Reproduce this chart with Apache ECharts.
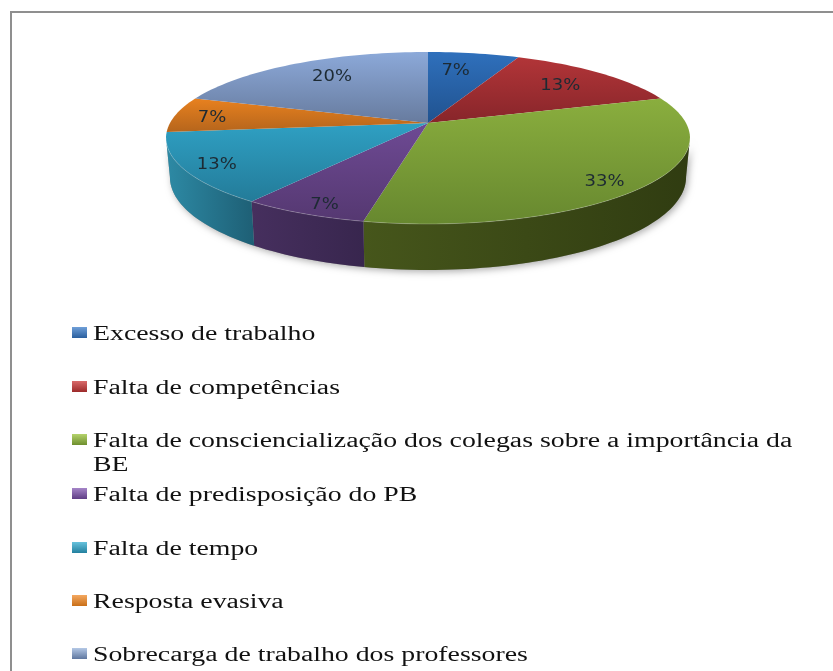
<!DOCTYPE html>
<html>
<head>
<meta charset="utf-8">
<style>html,body{margin:0;padding:0;background:#fff}#c{width:833px;height:671px}</style>
<script src="https://cdn.jsdelivr.net/npm/echarts@6/dist/echarts.min.js"></script>
</head>
<body>
<div id="c"></div>
<script>
// ---- data ----
var categories = [
  'Excesso de trabalho',
  'Falta de competências',
  'Falta de consciencialização dos colegas sobre a importância da\nBE',
  'Falta de predisposição do PB',
  'Falta de tempo',
  'Resposta evasiva',
  'Sobrecarga de trabalho dos professores'
];
var responses = [1, 2, 5, 1, 2, 1, 3];

// ---- styles ----
var topColors  = [['#2f70bc','#20528f'],['#b23538','#87252a'],['#8aae3e','#67882f'],['#6e4a94','#553871'],['#2fa0c3','#237b99'],['#e8811f','#b5651c'],['#8ca9d9','#677b9e']];
var wallColors = [['#20528f','#183d6b'],['#87252a','#5e1a1d'],['#46561b','#303c11'],['#462f5e','#38264e'],['#2d8aa5','#1e5f75'],['#b5651c','#7d4613'],['#677b9e','#46556e']];
var swatchColors = [['#6f9fd8','#2a5f9e'],['#d96a6a','#9c2a2a'],['#b5d36c','#6e8f2e'],['#a585c8','#5f3d85'],['#67c2dc','#23809f'],['#f4a860','#c96f18'],['#b4c8e6','#5f779f']];
var labelNudge = [[-8,2],[0,2],[19,13],[-14,17],[-32,9],[-26,2],[7,0]];
var legendRows = [333, 387, 440, 494, 548, 601, 654];

// ---- projected pie geometry ----
var CX = 428, CY = 123, RX = 258, RY = 83.4, K = 0.174, DEPTH = 38, SHRINK = 0.985;
var WALL_FROM = 100, WALL_TO = 260;
var total = responses.reduce(function (a, b) { return a + b; }, 0);

function rim(deg, f) {
  var t = deg * Math.PI / 180, s = Math.sin(t) * f, c = Math.cos(t) * f, w = 1 + K * c;
  return { x: CX + RX * s / w, y: CY - RY * c / w, w: w };
}
function lower(deg) {
  var p = rim(deg, 1);
  return [CX + (p.x - CX) * SHRINK, p.y + DEPTH / p.w];
}
function arc(a, b, fn) {
  var out = [], n = Math.max(2, Math.ceil(Math.abs(b - a) / 1.5));
  for (var i = 0; i <= n; i++) out.push(fn(a + (b - a) * i / n));
  return out;
}
function upper(d) { var p = rim(d, 1); return [p.x, p.y]; }
function grad(c, horizontal) {
  return { type: 'linear', x: 0, y: 0, x2: horizontal ? 1 : 0, y2: horizontal ? 0 : 1,
           colorStops: [{ offset: 0, color: c[0] }, { offset: 1, color: c[1] }] };
}

function renderSlice(params, api) {
  var idx = params.seriesIndex - 1;
  var a0 = api.value(1) / total * 360, a1 = (api.value(1) + api.value(0)) / total * 360;
  var children = [];
  var w0 = Math.max(a0, WALL_FROM), w1 = Math.min(a1, WALL_TO);
  if (w1 > w0) {
    var pts = arc(w0, w1, upper).concat(arc(w1, w0, lower));
    children.push({ type: 'polygon', shape: { points: pts }, style: { fill: grad(wallColors[idx], true) } });
  }
  children.push({ type: 'polygon',
    shape: { points: [[CX, CY]].concat(arc(a0, a1, upper)) },
    style: { fill: grad(topColors[idx], false) } });
  if (w1 > w0) {
    children.push({ type: 'polyline', shape: { points: arc(w0, w1, upper) },
      style: { fill: null, stroke: 'rgba(255,255,255,0.22)', lineWidth: 1 } });
  }
  var m = rim((a0 + a1) / 2, 0.75);
  children.push({ type: 'text', x: m.x + labelNudge[idx][0], y: m.y + labelNudge[idx][1], scaleX: 1.2, scaleY: 1,
    style: { text: Math.round(api.value(0) / total * 100) + '%', fontFamily: '"DejaVu Sans"', fontSize: 15,
             fill: '#1d2a33', align: 'center', verticalAlign: 'middle' } });
  return { type: 'group', children: children };
}
function renderShadow() {
  return { type: 'polygon', shape: { points: arc(WALL_FROM, WALL_TO, lower).concat(arc(WALL_TO, WALL_FROM, upper)) },
    style: { fill: '#999', shadowBlur: 7, shadowColor: 'rgba(0,0,0,0.32)', shadowOffsetY: 2, shadowOffsetX: 2 } };
}

var series = [{ type: 'custom', name: 'sombra', coordinateSystem: 'none', silent: true, renderItem: renderShadow, data: [[0]] }];
var acc = 0;
categories.forEach(function (name, i) {
  series.push({ type: 'custom', name: name, coordinateSystem: 'none', renderItem: renderSlice, data: [[responses[i], acc]] });
  acc += responses[i];
});

var graphics = [
  { type: 'rect', shape: { x: 10, y: 11, width: 823, height: 2 }, style: { fill: '#8f8f8f' } },
  { type: 'rect', shape: { x: 10, y: 11, width: 2, height: 660 }, style: { fill: '#8f8f8f' } }
];
categories.forEach(function (name, i) {
  graphics.push({ type: 'rect', shape: { x: 72, y: legendRows[i] - 6, width: 15, height: 11 },
    style: { fill: grad(swatchColors[i], false) } });
  graphics.push({ type: 'text', x: 93, y: legendRows[i] - 10, scaleX: 1.39, scaleY: 1,
    style: { text: name, fontFamily: '"Liberation Serif"', fontSize: 20, lineHeight: 24, fill: '#111', align: 'left', verticalAlign: 'top' } });
});

var chart = echarts.init(document.getElementById('c'), null, { renderer: 'canvas' });
chart.setOption({ animation: false, backgroundColor: '#fff', tooltip: { show: false }, series: series, graphic: graphics });
</script>
</body>
</html>
